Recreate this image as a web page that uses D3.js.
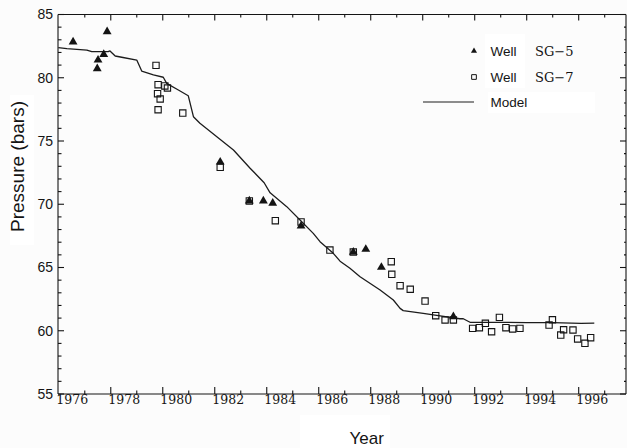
<!DOCTYPE html>
<html>
<head>
<meta charset="utf-8">
<script src="https://cdn.jsdelivr.net/npm/d3@7/dist/d3.min.js"></script>
<style>
  html, body { margin: 0; padding: 0; background: #fcfcfc; }
  svg { display: block; }
</style>
</head>
<body>
<svg id="chart" width="627" height="448"></svg>
<script>
// Well SG-5 measurements (filled triangles)
const sg5Years    = [1976.05, 1976.98, 1977.01, 1977.23, 1977.36, 1981.71, 1982.83, 1983.37, 1983.73, 1984.82, 1986.83, 1987.31, 1987.91, 1990.68];
const sg5Pressure = [82.83, 80.72, 81.40, 81.85, 83.64, 73.34, 70.26, 70.26, 70.08, 68.28, 66.22, 66.44, 65.02, 61.11];

// Well SG-7 measurements (open squares)
const sg7Years    = [1979.24, 1979.32, 1979.58, 1979.68, 1979.30, 1979.40, 1979.32, 1980.27, 1981.71, 1982.83,
                     1983.83, 1984.82, 1985.93, 1986.83, 1988.29, 1988.31, 1988.63, 1989.02, 1989.59, 1990.00,
                     1990.36, 1990.68, 1991.42, 1991.68, 1991.91, 1992.15, 1992.45, 1992.70, 1992.96, 1993.24,
                     1994.36, 1994.49, 1994.81, 1994.92, 1995.28, 1995.46, 1995.74, 1995.96];
const sg7Pressure = [80.98, 79.45, 79.35, 79.19, 78.74, 78.32, 77.47, 77.21, 72.92, 70.26,
                     68.70, 68.60, 66.38, 66.22, 65.46, 64.46, 63.56, 63.28, 62.35, 61.19,
                     60.85, 60.85, 60.19, 60.24, 60.59, 59.92, 61.06, 60.24, 60.14, 60.19,
                     60.45, 60.87, 59.66, 60.08, 60.06, 59.35, 59.01, 59.45];

// Simulated reservoir pressure
const modelYears    = [1975.48, 1975.81, 1976.58, 1976.77, 1977.40, 1977.47, 1977.67, 1977.92, 1978.50, 1978.69,
                       1979.14, 1979.52, 1979.65, 1980.10, 1980.48, 1980.68, 1980.93, 1981.58, 1982.22, 1982.86,
                       1983.40, 1983.63, 1984.27, 1984.78, 1985.29, 1985.55, 1986.06, 1986.32, 1986.70, 1987.09,
                       1987.86, 1988.37, 1988.63, 1988.75, 1989.52, 1990.17, 1990.93, 1991.06, 1991.32, 1992.22,
                       1993.50, 1994.50, 1995.59, 1996.10];
const modelPressure = [82.38, 82.30, 82.19, 82.06, 82.06, 82.12, 81.72, 81.62, 81.40, 80.53,
                       80.22, 80.04, 79.56, 79.03, 78.58, 76.92, 76.40, 75.34, 74.29, 72.85,
                       71.70, 70.90, 69.81, 68.76, 67.70, 67.04, 66.12, 65.50, 64.94, 64.27,
                       63.22, 62.43, 61.77, 61.59, 61.38, 61.17, 60.95, 60.95, 60.67, 60.67,
                       60.64, 60.65, 60.59, 60.61];

// Axis ticks and labels
const yearLabels    = [1976, 1978, 1980, 1982, 1984, 1986, 1988, 1990, 1992, 1994, 1996];
const pressureTicks = [55, 60, 65, 70, 75, 80, 85];

const svg = d3.select("#chart");
const ink = "#141414";

const x = d3.scaleLinear().domain([1975.47, 1997.32]).range([58, 626]);
const y = d3.scaleLinear().domain([55, 85]).range([394, 14.5]);

// half-year tick marks, alternating long/short
const halfYearTicks = d3.range(1976.5, 1997.0, 1);
const minorPressure = d3.range(56, 85, 1).filter(v => v % 5 !== 0);

// blank patches behind the labels
const patch = "#ffffff";
svg.append("rect").attr("x", 10).attr("y", 95).attr("width", 24).attr("height", 150).attr("fill", patch);
svg.append("rect").attr("x", 300).attr("y", 415).attr("width", 90).attr("height", 33).attr("fill", patch);
svg.append("rect").attr("x", 485).attr("y", 34).attr("width", 40).attr("height", 54).attr("fill", patch);
svg.append("rect").attr("x", 488).attr("y", 92).attr("width", 107).attr("height", 21).attr("fill", patch);

const frame = svg.append("g").attr("stroke", ink).attr("stroke-width", 1.1).attr("fill", "none");

// frame lines
frame.append("line").attr("x1", x.range()[0]).attr("x2", x.range()[1]).attr("y1", y(55)).attr("y2", y(55));
frame.append("line").attr("x1", x.range()[0]).attr("x2", x.range()[1]).attr("y1", y(85)).attr("y2", y(85));
frame.append("line").attr("x1", x.range()[0]).attr("x2", x.range()[0]).attr("y1", y(55)).attr("y2", y(85));
frame.append("line").attr("x1", x.range()[1]).attr("x2", x.range()[1]).attr("y1", y(55)).attr("y2", y(85));

const tickLen = v => (Math.round(v - 0.5) % 2 !== 0 ? 7 : 3.5);

// bottom and top ticks
halfYearTicks.forEach(v => {
  const L = tickLen(v);
  frame.append("line").attr("x1", x(v)).attr("x2", x(v)).attr("y1", y(55)).attr("y2", y(55) - L);
  frame.append("line").attr("x1", x(v)).attr("x2", x(v)).attr("y1", y(85)).attr("y2", y(85) + L * 0.85);
});

// left and right ticks
pressureTicks.forEach(v => {
  frame.append("line").attr("x1", x.range()[0]).attr("x2", x.range()[0] + 6).attr("y1", y(v)).attr("y2", y(v));
  frame.append("line").attr("x1", x.range()[1]).attr("x2", x.range()[1] - 6).attr("y1", y(v)).attr("y2", y(v));
});
minorPressure.forEach(v => {
  frame.append("line").attr("x1", x.range()[0]).attr("x2", x.range()[0] + 3.5).attr("y1", y(v)).attr("y2", y(v));
  frame.append("line").attr("x1", x.range()[1]).attr("x2", x.range()[1] - 2).attr("y1", y(v)).attr("y2", y(v));
});

// tick labels
const yAxisLabels = svg.append("g")
  .attr("transform", `translate(${x.range()[0]},0)`)
  .call(d3.axisLeft(y).tickValues(pressureTicks).tickSize(0).tickPadding(5).tickFormat(d3.format("d")));
yAxisLabels.select(".domain").remove();
yAxisLabels.selectAll("text")
  .attr("fill", ink).style("font-family", "'Liberation Sans', Arial, sans-serif").style("font-size", "14px");

const xAxisLabels = svg.append("g")
  .attr("transform", `translate(0,${y(55)})`)
  .call(d3.axisBottom(x).tickValues(yearLabels).tickSize(0).tickPadding(1).tickFormat(d3.format("d")));
xAxisLabels.select(".domain").remove();
xAxisLabels.selectAll("text")
  .attr("fill", ink).style("font-family", "'DejaVu Serif', serif").style("font-size", "12.5px");

// axis titles
svg.append("text")
  .attr("transform", "translate(23.5,166.5) rotate(-90)")
  .attr("text-anchor", "middle")
  .attr("fill", ink)
  .style("font-family", "'Liberation Sans', Arial, sans-serif").style("font-size", "19px")
  .text("Pressure (bars)");

svg.append("text")
  .attr("x", 366.7).attr("y", 444)
  .attr("text-anchor", "middle")
  .attr("fill", ink)
  .style("font-family", "'Liberation Sans', Arial, sans-serif").style("font-size", "17px")
  .text("Year");

// model curve
const line = d3.line().x(d => x(d[0])).y(d => y(d[1]));
svg.append("path")
  .datum(modelYears.map((t, i) => [t, modelPressure[i]]))
  .attr("d", line)
  .attr("fill", "none")
  .attr("stroke", "#1c1c1c")
  .attr("stroke-width", 1.3)
  .attr("stroke-linejoin", "round");

// SG-7 squares
const square = d3.symbol().type(d3.symbolSquare).size(40);
svg.append("g").selectAll("path")
  .data(sg7Years.map((t, i) => [t, sg7Pressure[i]]))
  .join("path")
  .attr("transform", d => `translate(${x(d[0])},${y(d[1])})`)
  .attr("d", square)
  .attr("fill", "none")
  .attr("stroke", ink)
  .attr("stroke-width", 1.1);

// SG-5 triangles
const tri = d3.symbol().type(d3.symbolTriangle).size(34);
svg.append("g").selectAll("path")
  .data(sg5Years.map((t, i) => [t, sg5Pressure[i]]))
  .join("path")
  .attr("transform", d => `translate(${x(d[0])},${y(d[1])})`)
  .attr("d", tri)
  .attr("fill", ink);

// legend
const legend = svg.append("g");
const lfSans = "'Liberation Sans', Arial, sans-serif";
const lfSerif = "'DejaVu Serif', serif";
legend.append("path").attr("transform", "translate(474,51)")
  .attr("d", d3.symbol().type(d3.symbolTriangle).size(16)).attr("fill", ink);
legend.append("path").attr("transform", "translate(474,77)")
  .attr("d", d3.symbol().type(d3.symbolSquare).size(22)).attr("fill", "none").attr("stroke", ink).attr("stroke-width", 1);
legend.append("line").attr("x1", 423).attr("x2", 474).attr("y1", 102).attr("y2", 102)
  .attr("stroke", "#1c1c1c").attr("stroke-width", 1.2);

const legendRows = [
  { y: 55.5, name: "Well", id: "SG−5" },
  { y: 81.5, name: "Well", id: "SG−7" },
  { y: 106.5, name: "Model", id: "" }
];
legendRows.forEach(r => {
  legend.append("text").attr("x", 490.5).attr("y", r.y).attr("fill", ink)
    .style("font-family", lfSans).style("font-size", "13.5px").text(r.name);
  if (r.id) {
    legend.append("text").attr("x", 535).attr("y", r.y).attr("fill", ink)
      .style("font-family", lfSerif).style("font-size", "13px").text(r.id);
  }
});
</script>
</body>
</html>
